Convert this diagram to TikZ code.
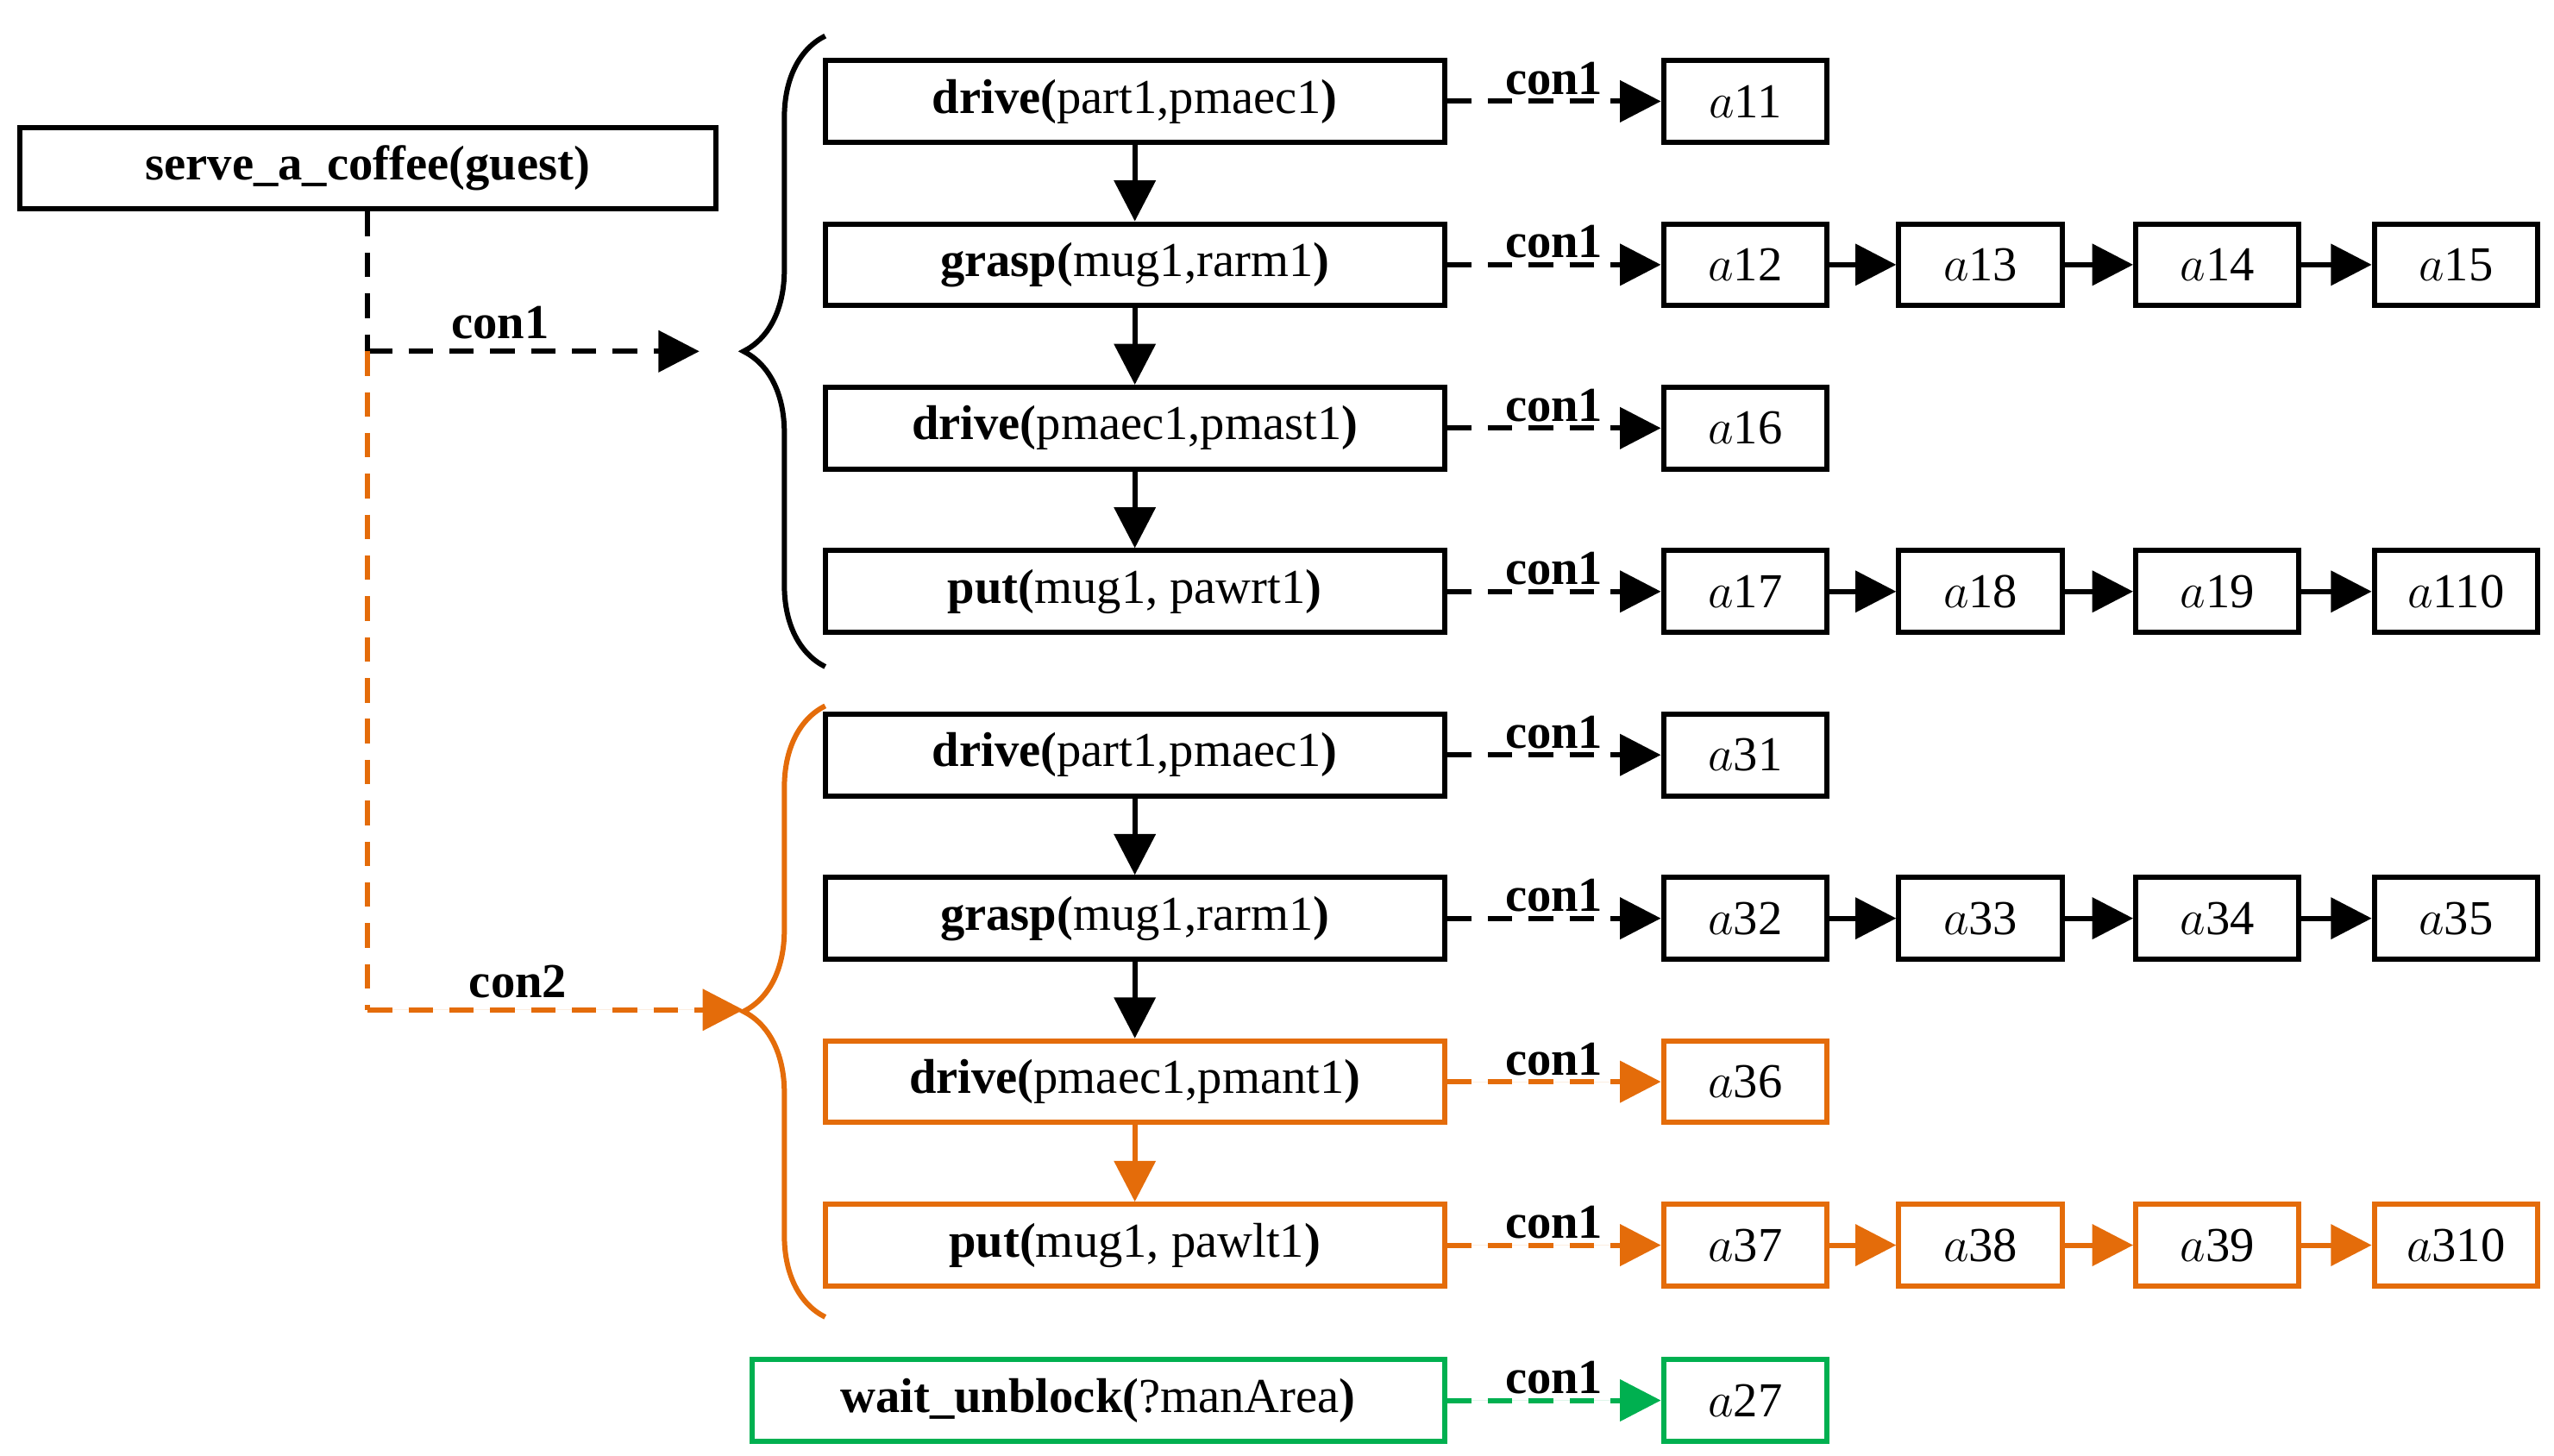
\documentclass[tikz,border=0pt]{standalone}
\usepackage{fontspec}
\setmainfont{Liberation Serif}
\usetikzlibrary{arrows.meta,decorations.pathreplacing}
\definecolor{org}{RGB}{228,108,10}
\definecolor{grn}{RGB}{0,176,80}
\begin{document}
\begin{tikzpicture}[x=0.02cm,y=-0.02cm,
  every node/.style={font=\fontsize{17}{20}\selectfont},
  box/.style={draw, line width=1.8pt, minimum height=1cm, inner sep=0pt},
  act/.style={box, minimum width=7.58cm},
  lf/.style={box, minimum width=2cm},
  arr/.style={line width=1.8pt, -{Triangle[length=0.5cm,width=0.5cm]}},
  dsh/.style={arr, dashed, dash pattern=on 0.3cm off 0.2cm},
  lbl/.style={font=\fontsize{17}{20}\selectfont\bfseries},
  brc/.style={decorate, decoration={brace, amplitude=1cm}, line width=1.8pt}]
\useasboundingbox (0,0) rectangle (1563,891);

\node[box, minimum width=8.52cm] (serve) at (225,103) {\textbf{serve\_a\_coffee(guest)}};

% left action boxes
\node[act] (d1) at (694.5,62) {\textbf{drive(}part1,pmaec1\textbf{)}};
\node[act] (g1) at (694.5,162) {\textbf{grasp(}mug1,rarm1\textbf{)}};
\node[act] (d2) at (694.5,262) {\textbf{drive(}pmaec1,pmast1\textbf{)}};
\node[act] (p1) at (694.5,362) {\textbf{put(}mug1, pawrt1\textbf{)}};
\node[act] (d3) at (694.5,462) {\textbf{drive(}part1,pmaec1\textbf{)}};
\node[act] (g2) at (694.5,562) {\textbf{grasp(}mug1,rarm1\textbf{)}};
\node[act, draw=org] (d4) at (694.5,662) {\textbf{drive(}pmaec1,pmant1\textbf{)}};
\node[act, draw=org] (p2) at (694.5,762) {\textbf{put(}mug1, pawlt1\textbf{)}};
\node[box, draw=grn, minimum width=8.48cm] (w) at (672,857) {\textbf{wait\_unblock(}?manArea\textbf{)}};

\draw[arr] (d1) -- (g1);
\draw[arr] (g1) -- (d2);
\draw[arr] (d2) -- (p1);
\draw[arr] (d3) -- (g2);
\draw[arr] (g2) -- (d4);
\draw[arr, draw=org, fill=org] (d4) -- (p2);

% leaf boxes
\node[lf] (a11) at (1068,62) {$a$11};
\node[lf] (a12) at (1068,162) {$a$12};
\node[lf] (a13) at (1212,162) {$a$13};
\node[lf] (a14) at (1357,162) {$a$14};
\node[lf] (a15) at (1503,162) {$a$15};
\node[lf] (a16) at (1068,262) {$a$16};
\node[lf] (a17) at (1068,362) {$a$17};
\node[lf] (a18) at (1212,362) {$a$18};
\node[lf] (a19) at (1357,362) {$a$19};
\node[lf] (a110) at (1503,362) {$a$110};
\node[lf] (a31) at (1068,462) {$a$31};
\node[lf] (a32) at (1068,562) {$a$32};
\node[lf] (a33) at (1212,562) {$a$33};
\node[lf] (a34) at (1357,562) {$a$34};
\node[lf] (a35) at (1503,562) {$a$35};
\node[lf, draw=org] (a36) at (1068,662) {$a$36};
\node[lf, draw=org] (a37) at (1068,762) {$a$37};
\node[lf, draw=org] (a38) at (1212,762) {$a$38};
\node[lf, draw=org] (a39) at (1357,762) {$a$39};
\node[lf, draw=org] (a310) at (1503,762) {$a$310};
\node[lf, draw=grn] (a27) at (1068,857) {$a$27};

% con1 connectors
\foreach \s/\t in {d1/a11,g1/a12,d2/a16,p1/a17,d3/a31,g2/a32}
  \draw[dsh] (\s) -- node[lbl, above=-2pt] {con1} (\t);
\draw[dsh, draw=org, fill=org] (d4) -- node[lbl, above=-2pt] {con1} (a36);
\draw[dsh, draw=org, fill=org] (p2) -- node[lbl, above=-2pt] {con1} (a37);
\draw[dsh, draw=grn, fill=grn] (w) -- node[lbl, above=-2pt] {con1} (a27);

% leaf chains
\foreach \s/\t in {a12/a13,a13/a14,a14/a15,a17/a18,a18/a19,a19/a110,a32/a33,a33/a34,a34/a35}
  \draw[arr] (\s) -- (\t);
\foreach \s/\t in {a37/a38,a38/a39,a39/a310}
  \draw[arr, draw=org, fill=org] (\s) -- (\t);

% braces
\draw[brc] (505,408) -- (505,22);
\draw[brc, draw=org] (505,806) -- (505,432);

% decomposition connectors
\coordinate (j) at (225,215);
\coordinate (t1) at (428,215);
\coordinate (c2) at (225,618);
\coordinate (t2) at (455,618);
\draw[line width=1.8pt, dashed, dash pattern=on 0.3cm off 0.2cm] (serve.south) -- (j);
\draw[dsh] (j) -- node[lbl, above, pos=0.4] {con1} (t1);
\draw[line width=1.8pt, draw=org, dashed, dash pattern=on 0.3cm off 0.2cm] (j) -- (c2);
\draw[dsh, draw=org, fill=org] (c2) -- node[lbl, above, pos=0.4, text=black] {con2} (t2);
\end{tikzpicture}
\end{document}
